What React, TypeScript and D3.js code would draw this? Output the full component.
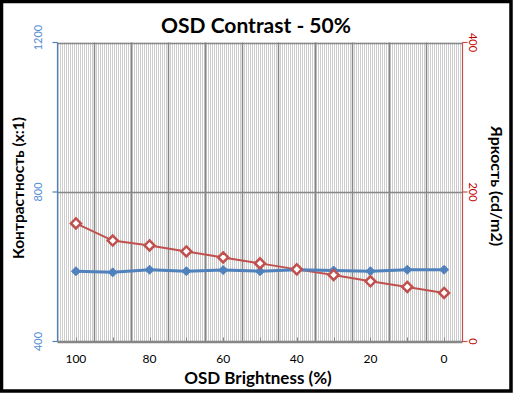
import React from "react";
import * as d3 from "d3";

const categories = ["100", "90", "80", "70", "60", "50", "40", "30", "20", "10", "0"];
const contrastValues = [588, 585, 592, 588, 591, 588, 592, 590, 588, 592, 592];
const brightnessValues = [158, 135, 128.5, 120.5, 112.5, 104.5, 96.5, 89, 80.5, 73, 65];
const leftTicks = [400, 800, 1200];
const rightTicks = [0, 200, 400];
const xLabelCats = ["100", "80", "60", "40", "20", "0"];

const W = 513;
const H = 393;
const plot = { left: 57.5, right: 462.5, top: 42.5, bottom: 341.5 };
const FONT = "Lato, 'Open Sans', sans-serif";
const BLUE = "#4F81BD";
const RED = "#C0504D";

export default function App() {
  const x = d3.scaleBand<string>().domain(categories).range([plot.left, plot.right]).padding(0);
  const yL = d3.scaleLinear().domain([400, 1200]).range([plot.bottom, plot.top]);
  const yR = d3.scaleLinear().domain([0, 400]).range([plot.bottom, plot.top]);
  const cx = (c: string) => (x(c) as number) + x.bandwidth() / 2;

  const blueLine = d3.line<number>().x((_, i) => cx(categories[i])).y((v) => yL(v));
  const redLine = d3.line<number>().x((_, i) => cx(categories[i])).y((v) => yR(v));

  const boundaries = categories.slice(1).map((c) => Math.round(x(c) as number) + 0.5);

  return (
    <svg width={W} height={H} style={{ position: "absolute", left: 0, top: 0, display: "block", background: "#fff" }}>
      <defs>
        <pattern id="stripes" x={0} y={0} width={2} height={4} patternUnits="userSpaceOnUse">
          <rect x={0} y={0} width={2} height={4} fill="#fff" />
          <rect x={0} y={0} width={1} height={4} fill="#cdcdcd" />
        </pattern>
      </defs>
      <rect x={0} y={0} width={W} height={H} fill="#fff" />
      {/* plot area */}
      <rect x={plot.left} y={plot.top} width={plot.right - plot.left} height={plot.bottom - plot.top} fill="url(#stripes)" />
      {/* gridlines */}
      {boundaries.map((bx, i) => (
        <line key={"g" + i} x1={bx} x2={bx} y1={plot.top} y2={plot.bottom} stroke="#868686" strokeWidth={1.5} />
      ))}
      {leftTicks.map((t, i) => (
        <line key={"h" + i} x1={plot.left} x2={plot.right} y1={Math.round(yL(t)) + 0.5} y2={Math.round(yL(t)) + 0.5} stroke="#868686" strokeWidth={1.5} />
      ))}
      {/* x tick marks (inside, category centers) */}
      {categories.map((c, i) => (
        <line key={"xt" + i} x1={Math.round(cx(c)) + 0.5} x2={Math.round(cx(c)) + 0.5} y1={plot.bottom - 4} y2={plot.bottom} stroke="#868686" strokeWidth={1} />
      ))}
      {/* x axis */}
      <line x1={plot.left} x2={plot.right} y1={plot.bottom} y2={plot.bottom} stroke="#868686" strokeWidth={1.5} />
      {/* left axis */}
      <line x1={plot.left} x2={plot.left} y1={plot.top} y2={plot.bottom} stroke={BLUE} strokeWidth={1.2} />
      {leftTicks.map((t, i) => (
        <line key={"lt" + i} x1={plot.left - 5} x2={plot.left} y1={yL(t)} y2={yL(t)} stroke={BLUE} strokeWidth={1.2} />
      ))}
      {leftTicks.map((t, i) => {
        const ty = i === leftTicks.length - 1 ? yL(t) - 5 : yL(t);
        return (
          <text key={"ll" + i} transform={`translate(42,${ty}) rotate(-90)`} textAnchor="middle" fontFamily={FONT} fontSize={11} fill="#558ED5">
            {t}
          </text>
        );
      })}
      {/* right axis */}
      <line x1={plot.right} x2={plot.right} y1={plot.top} y2={plot.bottom} stroke={RED} strokeWidth={1.2} />
      {rightTicks.map((t, i) => (
        <line key={"rt" + i} x1={plot.right} x2={plot.right + 5} y1={yR(t)} y2={yR(t)} stroke={RED} strokeWidth={1.2} />
      ))}
      {rightTicks.map((t, i) => (
        <text key={"rl" + i} transform={`translate(469,${yR(t)}) rotate(90)`} textAnchor="middle" fontFamily={FONT} fontSize={11} fill="#C00000">
          {t}
        </text>
      ))}
      {/* series lines */}
      <path d={redLine(brightnessValues) || ""} fill="none" stroke={RED} strokeWidth={2} />
      <path d={blueLine(contrastValues) || ""} fill="none" stroke={BLUE} strokeWidth={3} />
      {/* blue markers */}
      {contrastValues.map((v, i) => {
        const px = cx(categories[i]);
        const py = yL(v);
        const s = 4.5;
        return <path key={"bm" + i} d={`M${px},${py - s}L${px + s},${py}L${px},${py + s}L${px - s},${py}Z`} fill={BLUE} stroke={BLUE} strokeWidth={1} />;
      })}
      {/* red markers */}
      {brightnessValues.map((v, i) => {
        const px = cx(categories[i]);
        const py = yR(v);
        const s = 5;
        return <path key={"rm" + i} d={`M${px},${py - s}L${px + s},${py}L${px},${py + s}L${px - s},${py}Z`} fill="#fff" stroke={RED} strokeWidth={2.5} />;
      })}
      {/* x labels */}
      {xLabelCats.map((c, i) => (
        <text key={"xl" + i} x={cx(c)} y={363} textAnchor="middle" fontFamily={FONT} fontSize={12} fill="#000">
          {c}
        </text>
      ))}
      {/* titles */}
      <text x={256} y={33} textAnchor="middle" fontFamily={FONT} fontWeight="bold" fontSize={21} fill="#000">
        OSD Contrast - 50%
      </text>
      <text x={258} y={384} textAnchor="middle" fontFamily={FONT} fontWeight="bold" fontSize={17} fill="#000">
        OSD Brightness (%)
      </text>
      <text transform={`translate(24,${188}) rotate(-90)`} textAnchor="middle" fontFamily={FONT} fontWeight="bold" fontSize={15.5} fill="#000">
        Контрастность (x:1)
      </text>
      <text transform={`translate(491,${186}) rotate(90)`} textAnchor="middle" fontFamily={FONT} fontWeight="bold" fontSize={16} fill="#000">
        Яркость (cd/m2)
      </text>
      {/* outer border */}
      <rect x={1.5} y={1.5} width={W - 3.5} height={H - 3.5} fill="none" stroke="#000" strokeWidth={3.5} />
    </svg>
  );
}
